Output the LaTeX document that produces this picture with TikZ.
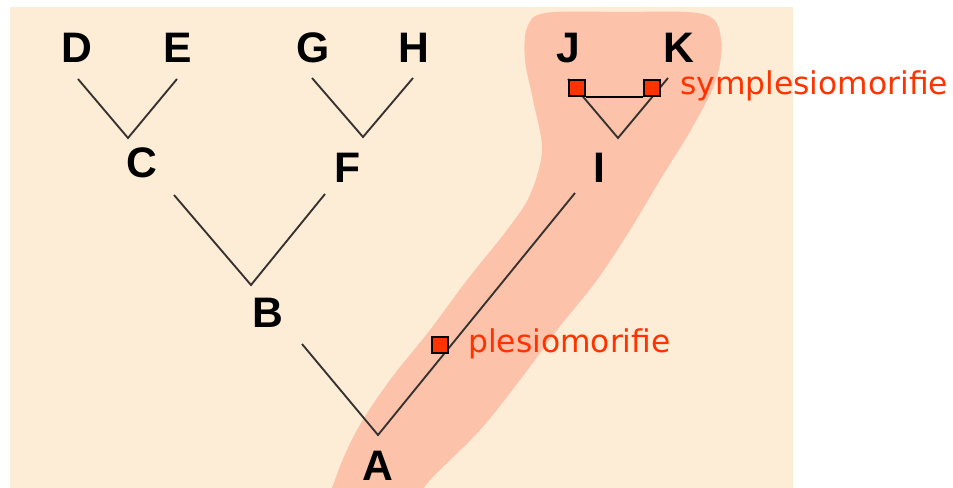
\documentclass[tikz,border=0pt]{standalone}
\usepackage{fontspec}
\newfontfamily\labfont{Liberation Sans}
\newfontfamily\notefont{DejaVu Sans}
\definecolor{bgbeige}{RGB}{253,236,214}
\definecolor{blobpink}{RGB}{252,194,170}
\definecolor{notered}{RGB}{255,51,0}
\definecolor{branchgray}{RGB}{55,50,48}
\tikzset{
  taxon/.style={inner sep=0pt, anchor=base, font=\labfont\bfseries\fontsize{32}{34}\selectfont, text=black},
  branch/.style={draw=branchgray, line width=1.4pt},
  marker/.style={rectangle, draw=black, line width=1.4pt, fill=notered, minimum size=12pt, inner sep=0pt},
  note/.style={inner sep=0pt, anchor=base west, font=\notefont\fontsize{23.5}{25}\selectfont, text=notered},
}
\begin{document}
\begin{tikzpicture}[x=0.75pt,y=-0.75pt]
\useasboundingbox (0,0) rectangle (953,488);
\fill[bgbeige] (10,7) rectangle (793,488);
\begin{scope}
  \clip (10,7) rectangle (793,488);
  \fill[blobpink] plot[smooth cycle, tension=0.55] coordinates {
    (545,13) (620,12) (703,14) (721,38) (716,80) (692,128) (660,180) (630,230)
    (597,280) (557,330) (520,380) (480,430) (430,480) (400,515) (330,515)
    (335,480) (357,430) (390,380) (430,330) (467,280) (507,230) (530,195)
    (542,150) (533,100) (525,60) (527,28)};
\end{scope}

% taxon labels
\node[taxon] (D) at (77,63) {D};
\node[taxon] (E) at (178,63) {E};
\node[taxon] (G) at (313,63) {G};
\node[taxon] (H) at (414,63) {H};
\node[taxon] (J) at (568,63) {J};
\node[taxon] (K) at (679,63) {K};
\node[taxon] (C) at (142,178) {C};
\node[taxon] (F) at (348,183) {F};
\node[taxon] (I) at (599,183) {I};
\node[taxon] (B) at (268,328) {B};
\node[taxon] (A) at (378,480) {A};

% branch end points
\coordinate (d) at (78,79);   \coordinate (e) at (177,79);   \coordinate (c) at (128,138);
\coordinate (g) at (312,78);  \coordinate (h) at (413,78);   \coordinate (f) at (363,137);
\coordinate (j) at (568,79);  \coordinate (k) at (668,78);   \coordinate (i) at (618,138);
\coordinate (cb) at (174,195); \coordinate (fb) at (325,194); \coordinate (b) at (251,285);
\coordinate (ba) at (302,344); \coordinate (ia) at (575,193); \coordinate (a) at (378,435);

\draw[branch] (d) -- (c) -- (e);
\draw[branch] (g) -- (f) -- (h);
\draw[branch] (j) -- (i) -- (k);
\draw[branch] (cb) -- (b) -- (fb);
\draw[branch] (ba) -- (a) -- (ia);

% character markers
\node[marker] (mJ) at (577,88) {};
\node[marker] (mK) at (652,88) {};
\node[marker] (mA) at (440,345) {};
\draw[black, line width=1pt] (mJ.south east) -- (mK.south west);

% notes
\node[note] (sym) at (680,95) {symplesiomorifie};
\node[note] (ple) at (468,352) {plesiomorifie};
\end{tikzpicture}
\end{document}
